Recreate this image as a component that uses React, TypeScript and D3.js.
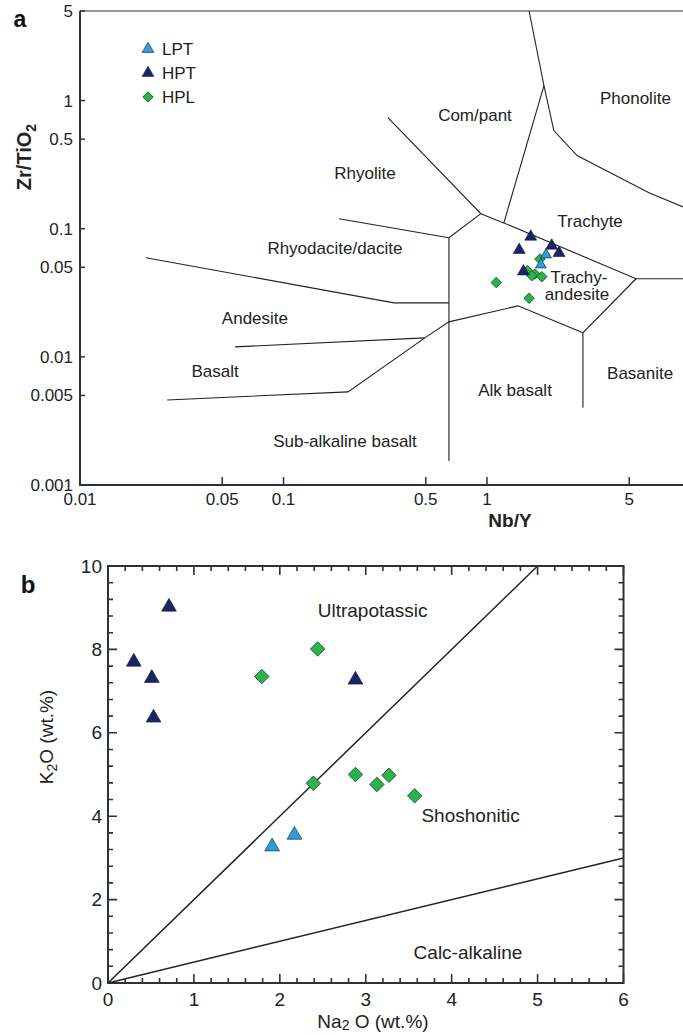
import React from "react"
import * as d3 from "d3"

// panel a: Zr/TiO2 vs Nb/Y (Winchester & Floyd)
const lptA = [[1.95, 0.0626], [1.84, 0.0523]]
const hptA = [[1.64, 0.0866], [1.44, 0.0682], [2.08, 0.0737], [2.26, 0.0646], [1.51, 0.0464]]
const hplA = [
  [1.82, 0.058], [1.11, 0.038], [1.61, 0.0287], [1.58, 0.047],
  [1.72, 0.0443], [1.66, 0.043], [1.86, 0.0422],
]

const fieldLines = [
  [[1.61, 5], [1.905, 1.31], [2.13, 0.583], [2.77, 0.372], [6.25, 0.191], [10, 0.14]],
  [[1.905, 1.31], [1.21, 0.111]],
  [[0.326, 0.736], [0.933, 0.131], [1.21, 0.111], [5.4, 0.0407], [10, 0.0407]],
  [[0.933, 0.131], [0.65, 0.0851]],
  [[0.1875, 0.1197], [0.65, 0.0851]],
  [[0.65, 0.0851], [0.65, 0.00154]],
  [[5.4, 0.0407], [2.96, 0.0154], [2.96, 0.004]],
  [[2.96, 0.0154], [1.42, 0.025], [0.65, 0.01876], [0.495, 0.01407], [0.2075, 0.00533], [0.0268, 0.00461]],
  [[0.0578, 0.01197], [0.495, 0.01407]],
  [[0.0211, 0.0593], [0.349, 0.0264], [0.65, 0.0264]],
]

const fieldLabels = [
  { text: "Com/pant", x: 0.873, y: 0.764, anchor: "middle" },
  { text: "Phonolite", x: 3.59, y: 1.055, anchor: "start" },
  { text: "Rhyolite", x: 0.2515, y: 0.274, anchor: "middle" },
  { text: "Trachyte", x: 3.21, y: 0.1155, anchor: "middle" },
  { text: "Rhyodacite/dacite", x: 0.179, y: 0.0711, anchor: "middle" },
  { text: "Andesite", x: 0.0724, y: 0.0202, anchor: "middle" },
  { text: "Basalt", x: 0.0461, y: 0.00778, anchor: "middle" },
  { text: "Alk basalt", x: 1.373, y: 0.00552, anchor: "middle" },
  { text: "Basanite", x: 3.89, y: 0.0075, anchor: "start" },
  { text: "Sub-alkaline basalt", x: 0.2006, y: 0.00221, anchor: "middle" },
]

const xTicksA = [0.01, 0.05, 0.1, 0.5, 1, 5]
const yTicksA = [5, 1, 0.5, 0.1, 0.05, 0.01, 0.005, 0.001]

// panel b: K2O vs Na2O
const lptB = [[1.91, 3.27], [2.17, 3.55]]
const hptB = [[0.3, 7.7], [0.71, 9.02], [0.51, 7.31], [0.53, 6.36], [2.88, 7.27]]
const hplB = [[1.79, 7.35], [2.44, 8.01], [2.39, 4.79], [2.88, 5.0], [3.13, 4.76], [3.27, 4.98], [3.57, 4.49]]
const dividers = [[[0, 0], [5, 10]], [[0, 0], [6, 3]]]
const regionLabels = [
  { text: "Ultrapotassic", x: 3.08, y: 8.94 },
  { text: "Shoshonitic", x: 4.22, y: 4.03 },
  { text: "Calc-alkaline", x: 4.19, y: 0.74 },
]

const NAVY = "#1c2466"
const LIGHT = "#2c9ed8"
const GREEN = "#2bb24c"
const AXIS = "#2b3338"
const FONT = "'Liberation Sans', Arial, sans-serif"

function Triangle({ x, y, size, fill }) {
  const p = d3.symbol(d3.symbolTriangle, size)()
  return <path d={p} transform={`translate(${x},${y})`} fill={fill} stroke="#101538" strokeWidth={0.6} />
}

function Diamond({ x, y, size }) {
  const p = d3.symbol(d3.symbolSquare, size)()
  return <path d={p} transform={`translate(${x},${y}) rotate(45)`} fill={GREEN} stroke="#14532a" strokeWidth={0.8} />
}

function PanelA() {
  const x = d3.scaleLog().domain([0.01, 10]).range([80, 690.5])
  const y = d3.scaleLog().domain([0.001, 5]).range([485, 11])
  const line = d3.line().x(d => x(d[0])).y(d => y(d[1]))
  return (
    <g fontFamily={FONT}>
      <line x1={80} x2={683} y1={11} y2={11} stroke={AXIS} strokeWidth={1.2} />
      {fieldLines.map((l, i) => (
        <path key={i} d={line(l)} fill="none" stroke="#222" strokeWidth={1.1} />
      ))}
      {fieldLabels.map((f, i) => (
        <text key={i} x={x(f.x)} y={y(f.y)} dy="0.35em" textAnchor={f.anchor} fontSize={17} fill="#222">{f.text}</text>
      ))}
      <text x={577} y={y(0.0352)} textAnchor="middle" fontSize={17} fill="#222">
        <tspan x={579} dy="-0.2em">Trachy-</tspan>
        <tspan x={577} dy="1em">andesite</tspan>
      </text>
      <line x1={80} x2={80} y1={11} y2={486} stroke={AXIS} strokeWidth={2} />
      <line x1={79} x2={683} y1={485} y2={485} stroke={AXIS} strokeWidth={2} />
      {xTicksA.map(t => (
        <g key={t}>
          <path d={`M${x(t)},485V477`} stroke={AXIS} strokeWidth={1.5} />
          <text x={x(t)} y={505} textAnchor="middle" fontSize={17} fill="#222">{t}</text>
        </g>
      ))}
      {yTicksA.map(t => (
        <g key={t}>
          <path d={`M80,${y(t)}H85`} stroke={AXIS} strokeWidth={1.5} />
          <text x={73} y={y(t)} dy="0.35em" textAnchor="end" fontSize={17} fill="#222">{t}</text>
        </g>
      ))}
      <text x={510} y={527} textAnchor="middle" fontSize={19} fontWeight="bold" fill="#222">Nb/Y</text>
      <text transform="translate(31,157) rotate(-90)" textAnchor="middle" fontSize={20} fontWeight="bold" fill="#222">
        Zr/TiO<tspan fontSize={14} dy="5">2</tspan>
      </text>
      <text x={20} y={27} textAnchor="middle" fontSize={23} fontWeight="bold" fill="#111">a</text>
      {[["LPT", LIGHT], ["HPT", NAVY], ["HPL", GREEN]].map((d, i) => (
        <g key={d[0]}>
          {i < 2
            ? <Triangle x={148} y={49 + i * 24} size={60} fill={d[1]} />
            : <Diamond x={148} y={49 + i * 24} size={55} />}
          <text x={162} y={49 + i * 24} dy="0.35em" fontSize={17} fill="#222">{d[0]}</text>
        </g>
      ))}
      {hplA.map((d, i) => <Diamond key={"g" + i} x={x(d[0])} y={y(d[1])} size={55} />)}
      {hptA.map((d, i) => <Triangle key={"h" + i} x={x(d[0])} y={y(d[1])} size={62} fill={NAVY} />)}
      {lptA.map((d, i) => <Triangle key={"l" + i} x={x(d[0])} y={y(d[1])} size={52} fill={LIGHT} />)}
    </g>
  )
}

function PanelB() {
  const x = d3.scaleLinear().domain([0, 6]).range([108, 623.5])
  const y = d3.scaleLinear().domain([0, 10]).range([983, 566])
  const xMinor = d3.range(0, 31).map(i => i * 0.2)
  const yMinor = d3.range(0, 26).map(i => i * 0.4)
  const isMajor = (v, step) => Math.abs(v / step - Math.round(v / step)) < 1e-6

  // inward ticks on all four sides
  const tickPath =
    xMinor.map(t => {
      const len = isMajor(t, 1) ? 9 : 5
      return `M${x(t)},983v${-len}M${x(t)},566v${len}`
    }).join("") +
    yMinor.map(t => {
      const len = isMajor(t, 2) ? 9 : 5
      return `M108,${y(t)}h${len}M623.5,${y(t)}h${-len}`
    }).join("")

  return (
    <g fontFamily={FONT}>
      {dividers.map((d, i) => (
        <line key={i} x1={x(d[0][0])} y1={y(d[0][1])} x2={x(d[1][0])} y2={y(d[1][1])} stroke="#222" strokeWidth={1.5} />
      ))}
      <rect x={108} y={566} width={515.5} height={417} fill="none" stroke={AXIS} strokeWidth={2} />
      <path d={tickPath} fill="none" stroke={AXIS} strokeWidth={1.6} />
      {d3.range(0, 7).map(t => (
        <text key={t} x={x(t)} y={1006} textAnchor="middle" fontSize={19} fill="#222">{t}</text>
      ))}
      {d3.range(0, 11, 2).map(t => (
        <text key={t} x={102} y={y(t)} dy="0.35em" textAnchor="end" fontSize={19} fill="#222">{t}</text>
      ))}
      {regionLabels.map(r => (
        <text key={r.text} x={x(r.x)} y={y(r.y)} dy="0.35em" textAnchor="middle" fontSize={19} fill="#222">{r.text}</text>
      ))}
      <text x={373} y={1028} textAnchor="middle" fontSize={19} fill="#222">
        Na<tspan fontSize={14} dy="2">2</tspan><tspan dy="-2"> O (wt.%)</tspan>
      </text>
      <text transform="translate(53,737) rotate(-90)" textAnchor="middle" fontSize={19} fill="#222">
        K<tspan fontSize={14} dy="4">2</tspan><tspan dy="-4">O (wt.%)</tspan>
      </text>
      <text x={28} y={593} textAnchor="middle" fontSize={24} fontWeight="bold" fill="#111">b</text>
      {hplB.map((d, i) => <Diamond key={"g" + i} x={x(d[0])} y={y(d[1])} size={105} />)}
      {hptB.map((d, i) => <Triangle key={"h" + i} x={x(d[0])} y={y(d[1])} size={95} fill={NAVY} />)}
      {lptB.map((d, i) => <Triangle key={"l" + i} x={x(d[0])} y={y(d[1])} size={95} fill={LIGHT} />)}
    </g>
  )
}

export default function App() {
  return (
    <svg width={683} height={1035} style={{ position: "absolute", left: 0, top: 0, background: "#fff" }}>
      <PanelA />
      <PanelB />
    </svg>
  )
}
